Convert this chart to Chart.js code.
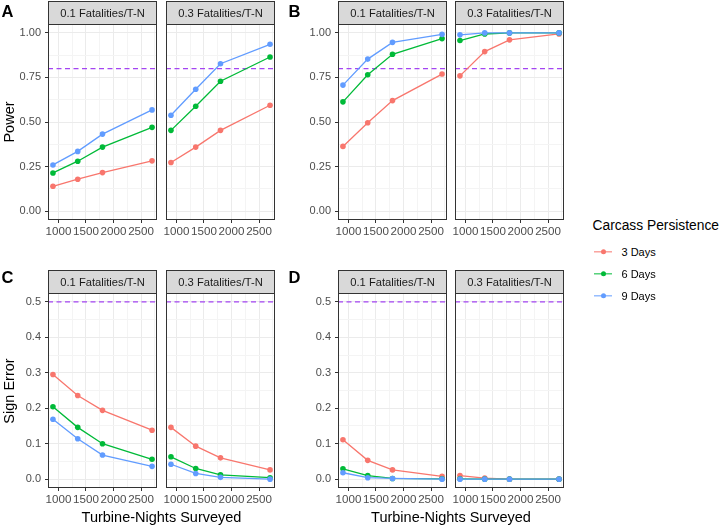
<!DOCTYPE html>
<html>
<head>
<meta charset="utf-8">
<script src="https://cdn.jsdelivr.net/npm/chart.js@4.4.1/dist/chart.umd.min.js"></script>
<style>
  body { margin: 0; background: #fff; font-family: "Liberation Sans", Arial, sans-serif; }
  #fig { position: relative; width: 725px; height: 525px; overflow: hidden; background: #fff; }
  #fig canvas { position: absolute; }
  .txt { position: absolute; white-space: nowrap; line-height: 1; color: #000; }
  .tag { font-weight: bold; font-size: 16.5px; transform: translate(-50%, -50%); }
  .ytitle { font-size: 14.5px; transform: translate(-50%, -50%) rotate(-90deg); }
  .xtitle { font-size: 14.5px; transform: translate(-50%, -50%); }
  .legtitle { font-size: 13.8px; transform: translateY(-50%); }
  .legtext { font-size: 11px; transform: translateY(-50%); color: #000; }
  .key { position: absolute; height: 1.3px; width: 18px; transform: translateY(-50%); }
  .key span { position: absolute; left: 6.5px; top: -2px; width: 5.2px; height: 5.2px; border-radius: 50%; }
</style>
</head>
<body>
<div id="fig"></div>
<script>
// x values and facets
const turbineNights = [900, 1350, 1800, 2700];
const facetLabels = ["0.1 Fatalities/T-N", "0.3 Fatalities/T-N"];
const persistence = ["3 Days", "6 Days", "9 Days"];
const seriesColors = ["#F8766D", "#00BA38", "#619CFF"];

// tick labels
const xTicks = [1000, 1500, 2000, 2500];
const xMinor = [1250, 1750, 2250, 2750];
const powerTicks = [0, 0.25, 0.5, 0.75, 1];
const powerMinor = [0.125, 0.375, 0.625, 0.875];
const signTicks = [0, 0.1, 0.2, 0.3, 0.4, 0.5];
const signMinor = [0.05, 0.15, 0.25, 0.35, 0.45];

const powerTarget = 0.8;
const signTarget = 0.5;

// A: power, 0.1 and 0.3 fatalities
const a1Days3 = [0.139, 0.179, 0.216, 0.282];
const a1Days6 = [0.214, 0.280, 0.359, 0.470];
const a1Days9 = [0.259, 0.335, 0.432, 0.568];
const a3Days3 = [0.273, 0.359, 0.453, 0.594];
const a3Days6 = [0.453, 0.588, 0.729, 0.865];
const a3Days9 = [0.538, 0.684, 0.827, 0.936];

// B: power
const b1Days3 = [0.363, 0.496, 0.620, 0.769];
const b1Days6 = [0.613, 0.765, 0.880, 0.968];
const b1Days9 = [0.707, 0.853, 0.947, 0.992];
const b3Days3 = [0.759, 0.895, 0.961, 0.994];
const b3Days6 = [0.957, 0.994, 1.000, 1.000];
const b3Days9 = [0.989, 1.000, 1.000, 1.000];

// C: sign error
const c1Days3 = [0.295, 0.236, 0.194, 0.138];
const c1Days6 = [0.204, 0.146, 0.100, 0.056];
const c1Days9 = [0.169, 0.114, 0.068, 0.036];
const c3Days3 = [0.146, 0.093, 0.060, 0.026];
const c3Days6 = [0.063, 0.030, 0.012, 0.004];
const c3Days9 = [0.042, 0.016, 0.005, 0.000];

// D: sign error
const d1Days3 = [0.111, 0.053, 0.026, 0.008];
const d1Days6 = [0.029, 0.010, 0.002, 0.001];
const d1Days9 = [0.018, 0.004, 0.002, 0.000];
const d3Days3 = [0.010, 0.003, 0.000, 0.000];
const d3Days6 = [0.001, 0.000, 0.000, 0.000];
const d3Days9 = [0.000, 0.000, 0.000, 0.000];

Chart.defaults.font.family = '"Liberation Sans", Arial, sans-serif';

const fig = document.getElementById("fig");
const plotW = 109;
const yAxisW = 48;
const rightPad = 16;
const stripH = 23;
const xAxisH = 22;

// strip, border and dashed reference line per facet
const facetFrame = {
    id: "facetFrame",
    beforeDatasetsDraw(chart) {
        const o = chart.options.plugins.facetFrame;
        const a = chart.chartArea;
        const ctx = chart.ctx;
        const y = chart.scales.y.getPixelForValue(o.target);
        ctx.save();
        ctx.strokeStyle = "#A445F2";
        ctx.lineWidth = 1.3;
        ctx.setLineDash([5, 3.5]);
        ctx.beginPath();
        ctx.moveTo(a.left, y);
        ctx.lineTo(a.right, y);
        ctx.stroke();
        ctx.restore();
    },
    afterDraw(chart) {
        const o = chart.options.plugins.facetFrame;
        const a = chart.chartArea;
        const ctx = chart.ctx;
        ctx.save();
        ctx.fillStyle = "#D9D9D9";
        ctx.fillRect(a.left, a.top - stripH, a.right - a.left, stripH);
        ctx.strokeStyle = "#333333";
        ctx.lineWidth = 1;
        ctx.strokeRect(a.left + 0.5, a.top - stripH + 0.5, a.right - a.left - 1, stripH);
        ctx.strokeRect(a.left + 0.5, a.top + 0.5, a.right - a.left - 1, a.bottom - a.top - 1);
        ctx.fillStyle = "#1A1A1A";
        ctx.font = '11.2px "Liberation Sans", Arial, sans-serif';
        ctx.textAlign = "center";
        ctx.textBaseline = "middle";
        ctx.fillText(o.label, (a.left + a.right) / 2, a.top - stripH / 2 + 1);
        ctx.restore();
    }
};

function makeFacet(plotLeft, plotTop, plotH, label, s3, s6, s9, yRange, yTicks, yMinor, decimals, target, showY) {
    const canvas = document.createElement("canvas");
    const w = yAxisW + plotW + rightPad;
    const h = stripH + 1 + plotH + xAxisH;
    canvas.width = w;
    canvas.height = h;
    canvas.style.width = w + "px";
    canvas.style.height = h + "px";
    canvas.style.left = (plotLeft - yAxisW) + "px";
    canvas.style.top = (plotTop - stripH - 1) + "px";
    fig.appendChild(canvas);

    const series = [s3, s6, s9];
    const datasets = series.map((vals, i) => ({
        label: persistence[i],
        data: turbineNights.map((x, j) => ({ x: x, y: vals[j] })),
        borderColor: seriesColors[i],
        backgroundColor: seriesColors[i],
        borderWidth: 1.3,
        pointRadius: 2.8,
        pointBorderWidth: 0,
        pointHoverRadius: 2.8,
        tension: 0,
        order: 3 - i,
    }));

    const isMajorX = v => xTicks.includes(v);
    const isMajorY = v => yTicks.some(t => Math.abs(t - v) < 1e-9);

    new Chart(canvas, {
        type: "line",
        data: { datasets: datasets },
        options: {
            responsive: false,
            devicePixelRatio: 1,
            animation: false,
            events: [],
            layout: { padding: { top: stripH + 1, right: rightPad, left: 0, bottom: 0 } },
            scales: {
                x: {
                    type: "linear",
                    min: 810,
                    max: 2790,
                    afterBuildTicks: s => {
                        s.ticks = xTicks.concat(xMinor).map(v => ({ value: v }));
                    },
                    afterFit: s => { s.height = xAxisH; },
                    border: { display: false },
                    grid: {
                        color: c => isMajorX(c.tick.value) ? "#EBEBEB" : "#F4F4F4",
                        tickColor: c => isMajorX(c.tick.value) ? "#333333" : "rgba(0,0,0,0)",
                        tickLength: 3,
                        lineWidth: 1,
                    },
                    ticks: {
                        autoSkip: false,
                        maxRotation: 0,
                        padding: 2,
                        color: "#4D4D4D",
                        font: { size: 11.6 },
                        callback: v => isMajorX(v) ? String(v) : "",
                    },
                },
                y: {
                    type: "linear",
                    min: yRange[0],
                    max: yRange[1],
                    afterBuildTicks: s => {
                        s.ticks = yTicks.concat(yMinor).map(v => ({ value: v }));
                    },
                    afterFit: s => { s.width = yAxisW; },
                    border: { display: false },
                    grid: {
                        color: c => isMajorY(c.tick.value) ? "#EBEBEB" : "#F4F4F4",
                        tickColor: c => (showY && isMajorY(c.tick.value)) ? "#333333" : "rgba(0,0,0,0)",
                        tickLength: 3,
                        lineWidth: 1,
                    },
                    ticks: {
                        display: showY,
                        padding: 4,
                        color: "#4D4D4D",
                        font: { size: 11 },
                        callback: v => isMajorY(v) ? v.toFixed(decimals) : "",
                    },
                },
            },
            plugins: {
                legend: { display: false },
                tooltip: { enabled: false },
                facetFrame: { label: label, target: target },
            },
        },
        plugins: [facetFrame],
    });
}

const colLeft = [48, 166, 338, 455];
const rowTop = [24, 293];
const rowH = [196, 195];
const powerRange = [-0.05, 1.05];
const signRange = [-0.025, 0.525];

// A
makeFacet(colLeft[0], rowTop[0], rowH[0], facetLabels[0], a1Days3, a1Days6, a1Days9, powerRange, powerTicks, powerMinor, 2, powerTarget, true);
makeFacet(colLeft[1], rowTop[0], rowH[0], facetLabels[1], a3Days3, a3Days6, a3Days9, powerRange, powerTicks, powerMinor, 2, powerTarget, false);
// B
makeFacet(colLeft[2], rowTop[0], rowH[0], facetLabels[0], b1Days3, b1Days6, b1Days9, powerRange, powerTicks, powerMinor, 2, powerTarget, true);
makeFacet(colLeft[3], rowTop[0], rowH[0], facetLabels[1], b3Days3, b3Days6, b3Days9, powerRange, powerTicks, powerMinor, 2, powerTarget, false);
// C
makeFacet(colLeft[0], rowTop[1], rowH[1], facetLabels[0], c1Days3, c1Days6, c1Days9, signRange, signTicks, signMinor, 1, signTarget, true);
makeFacet(colLeft[1], rowTop[1], rowH[1], facetLabels[1], c3Days3, c3Days6, c3Days9, signRange, signTicks, signMinor, 1, signTarget, false);
// D
makeFacet(colLeft[2], rowTop[1], rowH[1], facetLabels[0], d1Days3, d1Days6, d1Days9, signRange, signTicks, signMinor, 1, signTarget, true);
makeFacet(colLeft[3], rowTop[1], rowH[1], facetLabels[1], d3Days3, d3Days6, d3Days9, signRange, signTicks, signMinor, 1, signTarget, false);

// text around the panels
function addText(cls, text, x, y) {
    const d = document.createElement("div");
    d.className = "txt " + cls;
    d.textContent = text;
    d.style.left = x + "px";
    d.style.top = y + "px";
    fig.appendChild(d);
    return d;
}

addText("tag", "A", 7.5, 10.5);
addText("tag", "B", 294.5, 10.5);
addText("tag", "C", 7.5, 277);
addText("tag", "D", 294.5, 277);
addText("ytitle", "Power", 9, rowTop[0] + rowH[0] / 2);
addText("ytitle", "Sign Error", 9, rowTop[1] + rowH[1] / 2);
addText("xtitle", "Turbine-Nights Surveyed", (colLeft[0] + colLeft[1] + plotW) / 2, 516.5);
addText("xtitle", "Turbine-Nights Surveyed", (colLeft[2] + colLeft[3] + plotW) / 2, 516.5);

// legend
addText("legtitle", "Carcass Persistence", 592.5, 225.5);
const legendY = [251.5, 273.5, 296];
persistence.forEach((name, i) => {
    const k = document.createElement("div");
    k.className = "key";
    k.style.left = "594px";
    k.style.top = legendY[i] + "px";
    k.style.background = seriesColors[i];
    const dot = document.createElement("span");
    dot.style.background = seriesColors[i];
    k.appendChild(dot);
    fig.appendChild(k);
    addText("legtext", name, 621.5, legendY[i]);
});
</script>
</body>
</html>
